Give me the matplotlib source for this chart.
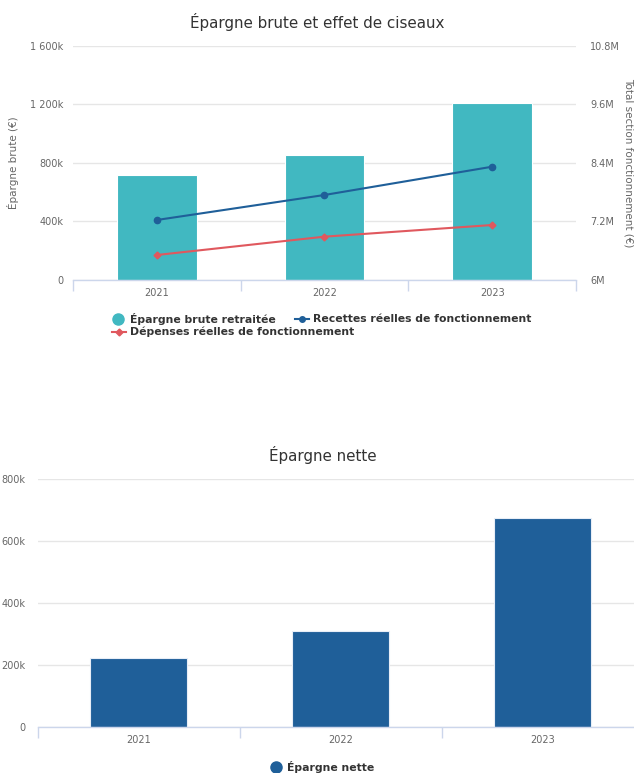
import matplotlib
matplotlib.use("Agg")
import matplotlib.pyplot as plt
from matplotlib.lines import Line2D
from matplotlib.ticker import FixedLocator

# ---------------- data ----------------
years = ["2021", "2022", "2023"]
epargne_brute = [715000, 853000, 1208000]
recettes = [7231000, 7744000, 8324000]
depenses = [6513000, 6889000, 7128000]
epargne_nette = [221000, 310000, 673000]

left_ticks = [0, 400000, 800000, 1200000, 1600000]
left_labels = ["0", "400k", "800k", "1 200k", "1 600k"]
right_ticks = [6000000, 7200000, 8400000, 9600000, 10800000]
right_labels = ["6M", "7.2M", "8.4M", "9.6M", "10.8M"]
bottom_ticks = [0, 200000, 400000, 600000, 800000]
bottom_labels = ["0", "200k", "400k", "600k", "800k"]

# ---------------- style ----------------
TEAL = "#41B8C1"
BLUE = "#1F5F99"
RED = "#E0585E"
GRID = "#E6E6E6"
AXIS = "#CCD6EB"
TICKC = "#666666"
TITLEC = "#333333"

W, H = 634, 773
fig = plt.figure(figsize=(W / 100, H / 100), dpi=100)
fig.patch.set_facecolor("white")


def px_axes(x0, y_top, x1, y_bottom):
    return fig.add_axes([x0 / W, 1 - y_bottom / H, (x1 - x0) / W, (y_bottom - y_top) / H])


def fx(px):
    return px / W


def fy(py):
    return 1 - py / H


def style_cat_axis(ax):
    n = len(years)
    ax.set_xlim(-0.5, n - 0.5)
    ax.set_xticks(range(n))
    ax.set_xticklabels(years, fontsize=7, color=TICKC)
    ax.tick_params(axis="x", which="major", length=0, pad=6)
    ax.xaxis.set_minor_locator(FixedLocator([i - 0.5 for i in range(n + 1)]))
    ax.tick_params(axis="x", which="minor", length=8, color=AXIS, width=1)
    for s in ["top", "right", "left"]:
        ax.spines[s].set_visible(False)
    ax.spines["bottom"].set_color(AXIS)
    ax.spines["bottom"].set_linewidth(1)
    ax.yaxis.grid(True, color=GRID, linewidth=1)
    ax.set_axisbelow(True)
    ax.tick_params(axis="y", length=0, labelsize=7, labelcolor=TICKC, pad=7)


def legend_item(kind, color, xm, y, text, tx):
    if kind == "circle":
        fig.add_artist(Line2D([fx(xm)], [fy(y)], transform=fig.transFigure, linestyle="none",
                              marker="o", markersize=8, color=color))
    else:
        fig.add_artist(Line2D([fx(xm - 7), fx(xm + 7)], [fy(y), fy(y)], transform=fig.transFigure,
                              color=color, linewidth=1.5))
        fig.add_artist(Line2D([fx(xm)], [fy(y)], transform=fig.transFigure, linestyle="none",
                              marker=kind, markersize=4 if kind == "o" else 3.5, color=color))
    fig.text(fx(tx), fy(y), text, ha="left", va="center", fontsize=7.8, fontweight="bold",
             color=TITLEC)


# ---------------- top chart ----------------
ax1 = px_axes(73, 46, 576, 280)
x = list(range(len(years)))
ax1.bar(x, epargne_brute, width=0.475, color=TEAL, edgecolor="white", linewidth=0.8, zorder=2)
ax1.set_ylim(0, 1600000)
ax1.set_yticks(left_ticks)
ax1.set_yticklabels(left_labels)
style_cat_axis(ax1)
ax1.set_ylabel("Épargne brute (€)", fontsize=7.5, color=TICKC)
ax1.yaxis.set_label_coords((18.5 - 73) / 503, 0.5)

ax2 = ax1.twinx()
ax2.set_ylim(6000000, 10800000)
ax2.set_yticks(right_ticks)
ax2.set_yticklabels(right_labels)
for s in ["top", "right", "left", "bottom"]:
    ax2.spines[s].set_visible(False)
ax2.tick_params(axis="y", length=0, labelsize=7, labelcolor=TICKC, pad=10)
ax2.plot(x, recettes, color=BLUE, linewidth=1.5, marker="o", markersize=4.5, zorder=4)
ax2.plot(x, depenses, color=RED, linewidth=1.5, marker="D", markersize=3.5, zorder=4)
ax2.set_ylabel("Total section fonctionnement (€)", fontsize=7.5, color=TICKC, rotation=-90,
               va="center")
ax2.yaxis.set_label_coords((628.5 - 73) / 503, 0.5)

fig.text(0.5, fy(22), "Épargne brute et effet de ciseaux", ha="center", va="center",
         fontsize=10.9, color=TITLEC)

legend_item("circle", TEAL, 118, 319, "Épargne brute retraitée", 130)
legend_item("o", BLUE, 301.5, 319, "Recettes réelles de fonctionnement", 313)
legend_item("D", RED, 118.5, 332, "Dépenses réelles de fonctionnement", 130)

# ---------------- bottom chart ----------------
ax3 = px_axes(37.7, 479, 643.7, 727)
ax3.bar(x, epargne_nette, width=0.48, color=BLUE, edgecolor="#E8EEF7", linewidth=0.8, zorder=2)
ax3.set_ylim(0, 800000)
ax3.set_yticks(bottom_ticks)
ax3.set_yticklabels(bottom_labels)
style_cat_axis(ax3)
ax3.tick_params(axis="y", pad=9)

fig.text(fx(323), fy(455), "Épargne nette", ha="center", va="center",
         fontsize=10.9, color=TITLEC)

legend_item("circle", BLUE, 275.5, 767, "Épargne nette", 287)

fig.savefig("out.png", dpi=100, facecolor="white")
